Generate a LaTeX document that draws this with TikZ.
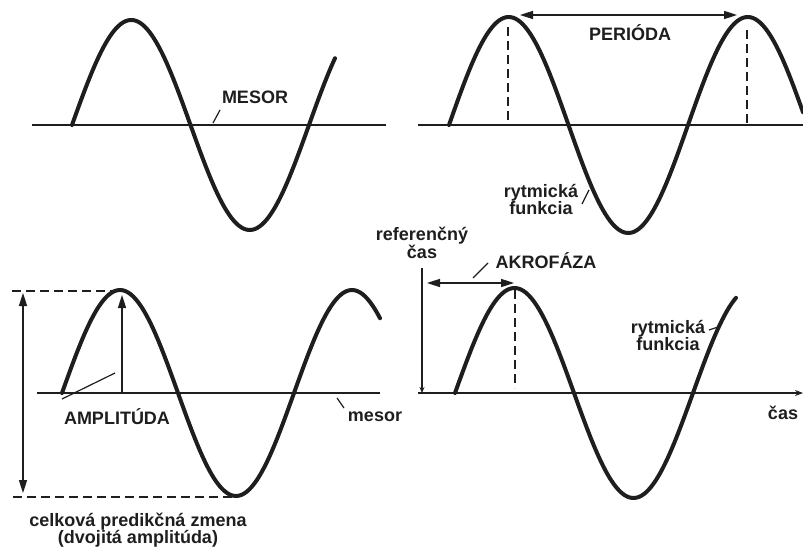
\documentclass[tikz,border=0pt]{standalone}
\usepackage{fontspec}
\setmainfont{Liberation Sans}
\usetikzlibrary{arrows.meta}
\definecolor{ink}{RGB}{30,30,30}
\tikzset{
  wave/.style={line width=4pt, ink, line cap=round},
  baseline/.style={line width=1.6pt, ink},
  guide/.style={line width=1.6pt, ink, dash pattern=on 9pt off 5pt},
  leader/.style={line width=1.2pt, ink},
  dim/.style={line width=1.6pt, ink, {Triangle[length=13pt,width=8pt]}-{Triangle[length=13pt,width=8pt]}},
  lbl/.style={font=\fontsize{18}{17}\selectfont\bfseries, text=ink, inner sep=0pt, align=center}
}
\begin{document}
\begin{tikzpicture}[x=1pt,y=-1pt]
\useasboundingbox (0,0) rectangle (803,548);
% ---------- panel 1 ----------
\coordinate (m1a) at (32,125); \coordinate (m1b) at (386,125);
\draw[baseline] (m1a) -- (m1b);
\draw[wave] plot[domain=72:335,samples=120,smooth] (\x,{125-105*sin((\x-72)/237*360)});
\node[lbl] (mesorA) at (255,97) {MESOR};
\coordinate (l1a) at (213,123); \coordinate (l1b) at (220,110);
\draw[leader] (l1a) -- (l1b);
% ---------- panel 2 ----------
\coordinate (m2a) at (418,125); \coordinate (m2b) at (803,125);
\draw[baseline] (m2a) -- (m2b);
\draw[wave] plot[domain=449:803,samples=150,smooth] (\x,{125-108*sin((\x-449)/239*360)});
\coordinate (p1t) at (508,27); \coordinate (p1b) at (508,125);
\coordinate (p2t) at (747,30); \coordinate (p2b) at (747,125);
\draw[guide] (p1t) -- (p1b);
\draw[guide] (p2t) -- (p2b);
\coordinate (pa) at (520,15); \coordinate (pb) at (737,15);
\draw[dim] (pa) -- (pb);
\node[lbl] (perioda) at (630,33) {PERIÓDA};
\node[lbl] (ryt1) at (541,199) {rytmická\\funkcia};
\coordinate (l2a) at (582,204); \coordinate (l2b) at (589,190);
\draw[leader] (l2a) -- (l2b);
% ---------- panel 3 ----------
\coordinate (m3a) at (37,393); \coordinate (m3b) at (380,393);
\draw[baseline] (m3a) -- (m3b);
\draw[wave] plot[domain=62:380,samples=130,smooth] (\x,{393-103*sin((\x-62)/232*360)});
\coordinate (dt1) at (12,291); \coordinate (dt2) at (121,291);
\coordinate (db1) at (13,497); \coordinate (db2) at (236,497);
\draw[guide] (dt1) -- (dt2);
\draw[guide] (db1) -- (db2);
\coordinate (va) at (23,293); \coordinate (vb) at (23,493);
\draw[dim] (va) -- (vb);
\coordinate (aa) at (122,393); \coordinate (ab) at (122,295);
\draw[line width=1.6pt, ink, -{Triangle[length=13pt,width=8pt]}] (aa) -- (ab);
\node[lbl] (ampl) at (117,417) {AMPLITÚDA};
\coordinate (l3a) at (62,399); \coordinate (l3b) at (115,373);
\draw[leader] (l3a) -- (l3b);
\node[lbl] (mesorB) at (375,417) {mesor};
\coordinate (l4a) at (337,398); \coordinate (l4b) at (344,408);
\draw[leader] (l4a) -- (l4b);
\node[lbl] (celk) at (138,530) {celková predikčná zmena\\(dvojitá amplitúda)};
% ---------- panel 4 ----------
\coordinate (xa) at (418,393); \coordinate (xb) at (803,393);
\draw[line width=1.6pt, ink, -{Stealth[length=8pt,width=6pt]}] (xa) -- (xb);
\coordinate (ya) at (422,268); \coordinate (yb) at (422,393);
\draw[line width=1.6pt, ink, -{Stealth[length=6pt,width=5pt]}] (ya) -- (yb);
\draw[wave] plot[domain=455:736,samples=120,smooth] (\x,{393-105*sin((\x-455)/238*360)});
\coordinate (ka) at (515,290); \coordinate (kb) at (515,388);
\draw[guide] (ka) -- (kb);
\coordinate (ra) at (427,283); \coordinate (rb) at (514,283);
\draw[dim] (ra) -- (rb);
\node[lbl] (ref) at (422,243) {referenčný\\čas};
\node[lbl] (akro) at (546,261) {AKROFÁZA};
\coordinate (l5a) at (473,278); \coordinate (l5b) at (488,263);
\draw[leader] (l5a) -- (l5b);
\node[lbl] (ryt2) at (668,335) {rytmická\\funkcia};
\coordinate (l6a) at (709,330); \coordinate (l6b) at (718,327);
\draw[leader] (l6a) -- (l6b);
\node[lbl] (cas) at (783,413) {čas};
\end{tikzpicture}
\end{document}
